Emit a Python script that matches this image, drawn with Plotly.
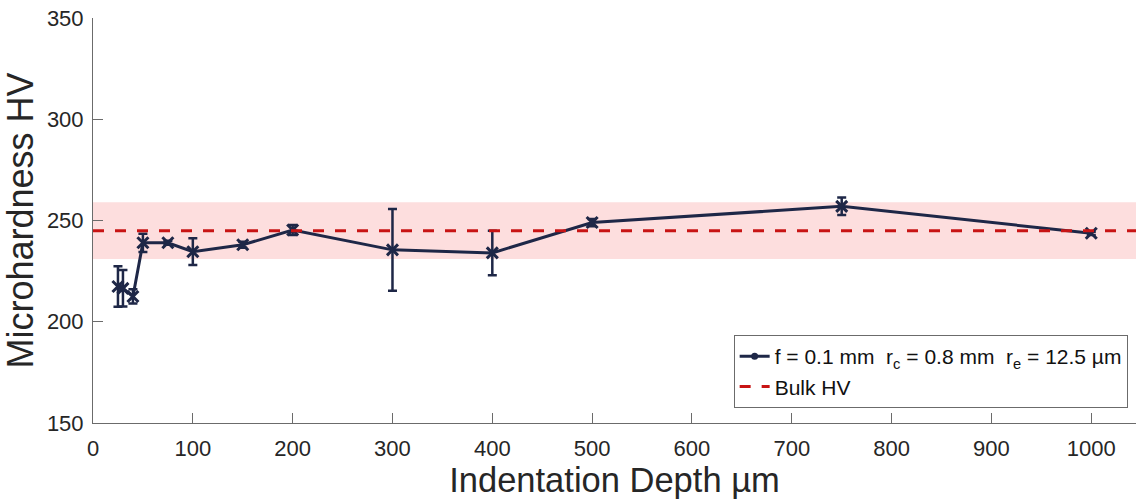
import plotly.graph_objects as go

# Indentation depth (µm) and measured microhardness (HV) with standard deviation
depth_um = [25, 30, 40, 50, 75, 100, 150, 200, 300, 400, 500, 750, 1000]
hardness_hv = [217.4, 216.5, 212.5, 239, 239, 234.6, 238, 245.3, 235.5, 234, 249, 257, 243.7]
hardness_sd = [10, 9, 3.5, 4.5, 1, 6.6, 1.5, 2.5, 20.2, 11, 1.8, 4.3, 0.8]

# Bulk material hardness and its spread
bulk_hv = 245
bulk_sd = 14

x_ticks = [0, 100, 200, 300, 400, 500, 600, 700, 800, 900, 1000]
y_ticks = [150, 200, 250, 300, 350]
x_range = [0, 1044.8]
y_range = [150, 350]

navy = "#1e2747"
red = "#c81414"
font_family = "Liberation Sans, Arial, Helvetica, sans-serif"

fig = go.Figure()

# measured series with error bars
fig.add_trace(go.Scatter(
    x=depth_um, y=hardness_hv,
    mode="lines+markers",
    line=dict(color=navy, width=3),
    marker=dict(symbol="x-thin-open", size=11, line=dict(color=navy, width=3), color=navy),
    error_y=dict(type="data", array=hardness_sd, visible=True,
                 color=navy, thickness=2.5, width=4.5),
    showlegend=False,
))

# legend entry for the measured series
fig.add_trace(go.Scatter(
    x=[None], y=[None],
    mode="lines+markers",
    line=dict(color=navy, width=3),
    marker=dict(symbol="circle", size=7, color=navy),
    name="f = 0.1 mm  r<sub>c</sub> = 0.8 mm  r<sub>e</sub> = 12.5 µm",
))

# bulk hardness reference line
fig.add_trace(go.Scatter(
    x=[x_range[0], x_range[1]], y=[bulk_hv, bulk_hv],
    mode="lines",
    line=dict(color=red, width=3, dash="11px,11px"),
    name="Bulk HV",
))

# bulk hardness spread band
fig.add_shape(
    type="rect", xref="paper", x0=0, x1=1,
    yref="y", y0=bulk_hv - bulk_sd, y1=bulk_hv + bulk_sd,
    fillcolor="#fddede", line=dict(width=0), layer="below",
)

axis_common = dict(
    showline=True, linecolor="#6b6b6b", linewidth=1,
    ticks="inside", ticklen=10, tickwidth=1, tickcolor="#6b6b6b",
    showgrid=False, zeroline=False,
    tickfont=dict(size=22, color="#262626", family=font_family),
)

fig.update_layout(
    width=1136, height=502,
    margin=dict(l=93, r=0, t=18, b=79),
    paper_bgcolor="white", plot_bgcolor="white",
    font=dict(family=font_family, color="#262626"),
    xaxis=dict(
        range=x_range, tickvals=x_ticks, ticklabelstandoff=6,
        title=dict(text="Indentation Depth µm", font=dict(size=34.5, color="#262626"), standoff=6),
        **axis_common,
    ),
    yaxis=dict(
        range=y_range, tickvals=y_ticks, ticklabelstandoff=4,
        title=dict(text="Microhardness HV", font=dict(size=36, color="#262626"), standoff=8),
        **axis_common,
    ),
    legend=dict(
        x=0.992, y=0.037, xanchor="right", yanchor="bottom",
        bgcolor="white", bordercolor="#6b6b6b", borderwidth=1,
        font=dict(size=21, color="#111111", family=font_family),
        tracegroupgap=0, itemwidth=30,
    ),
)

fig.write_html("out.html")
